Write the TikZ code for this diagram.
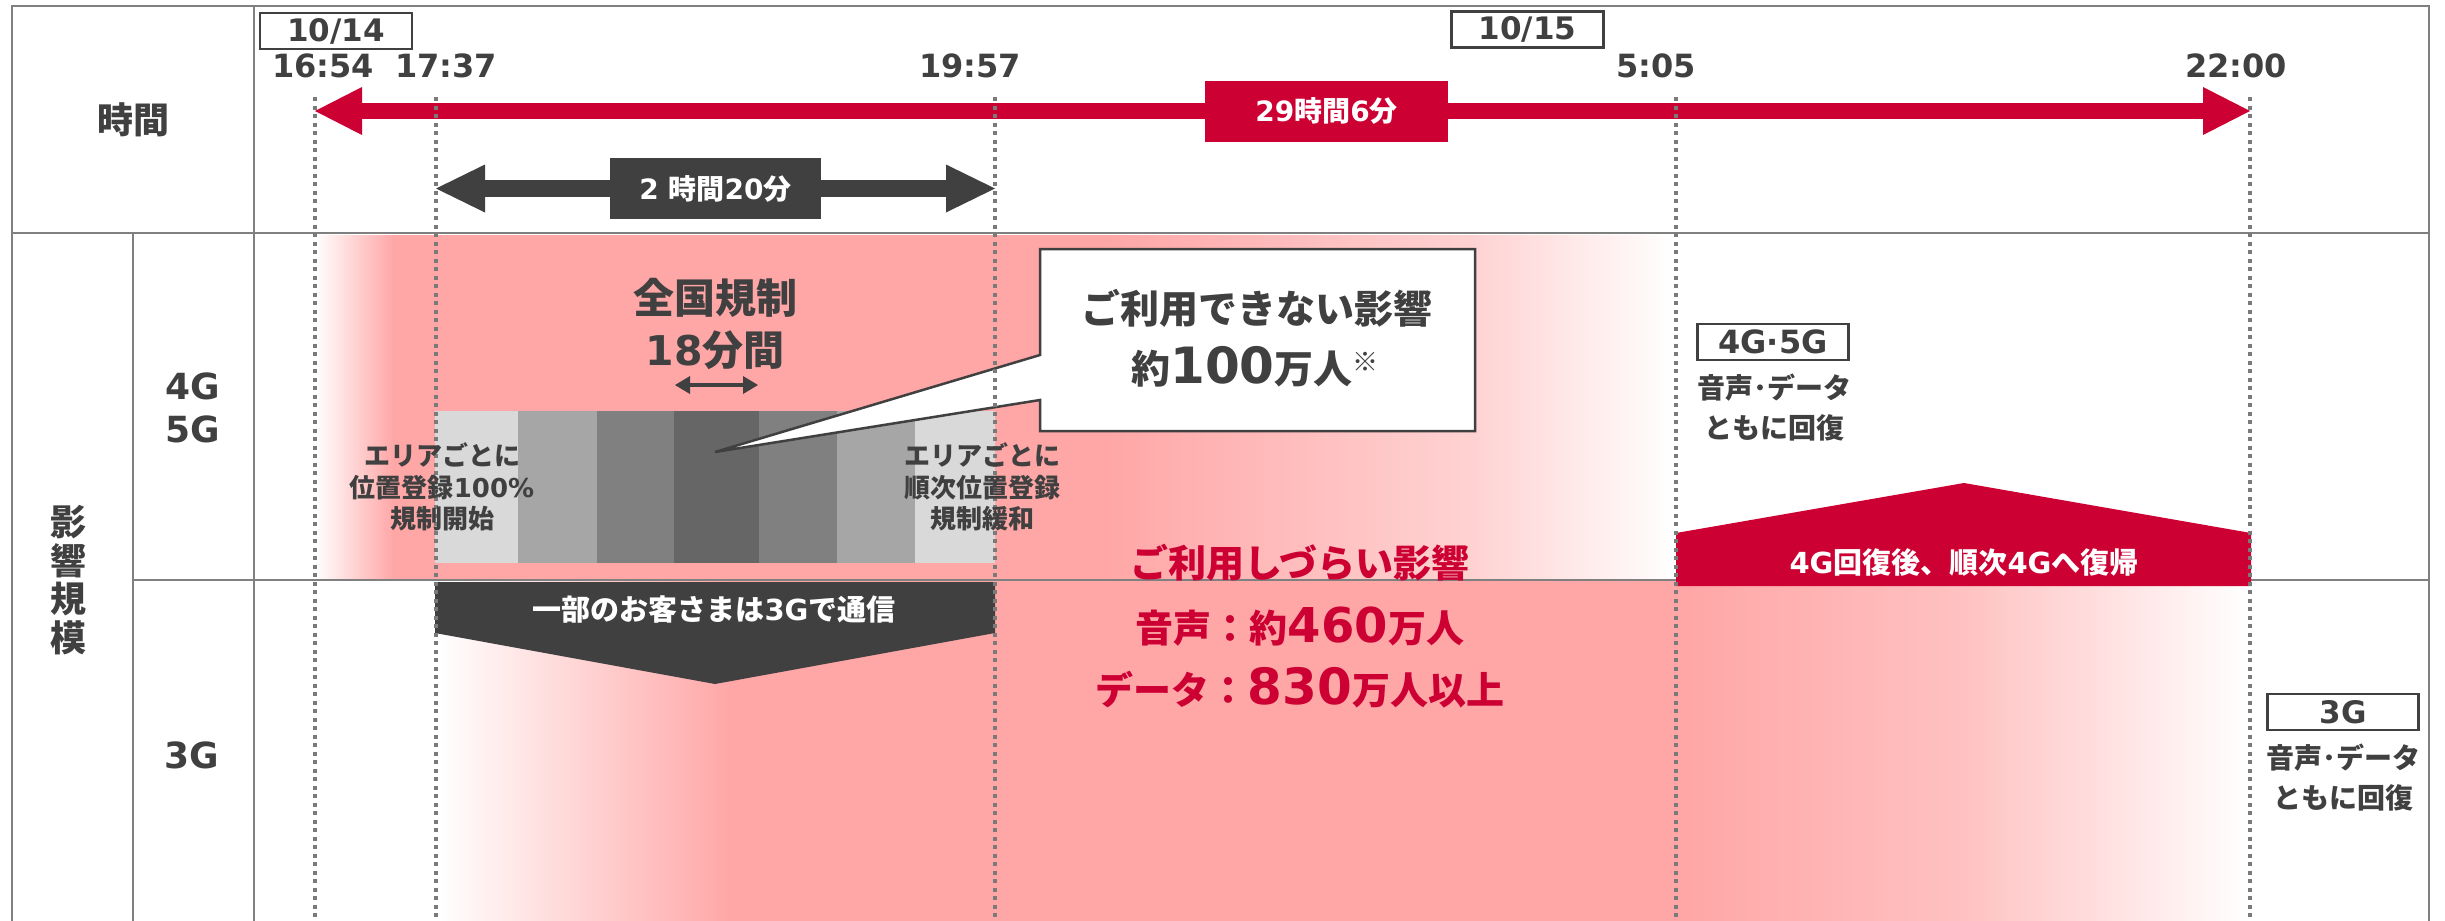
\documentclass[tikz,border=0pt]{standalone}
\usepackage{fontspec}
\setmainfont{Noto Sans CJK JP}
\newfontfamily\latinfont{DejaVu Sans}
\usetikzlibrary{arrows.meta, positioning}

\definecolor{alertred}{HTML}{CC0033}
\definecolor{inkgray}{HTML}{404040}
\definecolor{rulegray}{HTML}{808080}
\definecolor{impactpink}{HTML}{FFA6A6}

\newcommand{\fsz}[2]{\fontsize{#1}{#2}\selectfont\bfseries}
\newcommand{\dv}[1]{{\latinfont #1}}
\newcommand{\bignum}[2]{{\latinfont\fontsize{#1}{#1}\selectfont #2}}

\tikzset{
  gridline/.style = {draw=rulegray, line width=2.5pt},
  timeline/.style = {draw=rulegray!95!black, line width=3.5pt, dash pattern=on 4pt off 4.5pt},
  datebox/.style = {draw=inkgray, line width=2.5pt, fill=white, text=inkgray, inner sep=0pt,
    minimum width=152pt, minimum height=36pt, font=\fsz{31}{31}\latinfont},
  timelabel/.style = {text=inkgray, inner sep=0pt, font=\fsz{32}{32}\latinfont},
  headlabel/.style = {text=inkgray, inner sep=0pt, align=center, font=\fsz{36}{38.5}},
  spanlabel/.style = {text=white, inner sep=0pt, minimum height=61pt, font=\fsz{28}{28}},
  totalspan/.style = {draw=alertred, line width=16pt, -{Triangle[length=47pt, width=48pt, line width=0pt]}},
  splitspan/.style = {draw=inkgray, line width=17pt, -{Triangle[length=49pt, width=48pt, line width=0pt]}},
  periodmark/.style = {draw=inkgray, line width=4.5pt,
    {Triangle[length=15pt, width=18pt, line width=0pt]}-{Triangle[length=15pt, width=18pt, line width=0pt]}},
  smalllabel/.style = {text=inkgray, inner sep=0pt, align=center, font=\fsz{26}{31.5}},
  notebox/.style = {draw=inkgray, line width=2.5pt, fill=white},
  notetext/.style = {text=inkgray, inner sep=0pt, font=\fsz{39}{39}},
  hardlabel/.style = {text=alertred, inner sep=0pt, font=\fsz{38}{38}},
  recovery/.style = {text=inkgray, inner sep=0pt, align=center, font=\fsz{28}{40}},
  whitelabel/.style = {text=white, inner sep=0pt, font=\fsz{29}{29}}
}

\begin{document}
\begin{tikzpicture}[x=1pt, y=-1pt]
  \useasboundingbox (0,0) rectangle (2445,921);

  %% Impact shading

  % 4G / 5G row
  \shade[left color=white, right color=impactpink] (315,235) rectangle (394,579);
  \fill[impactpink] (393,235) rectangle (1101,579);
  \shade[left color=impactpink, right color=impactpink!50!white] (1100,235) rectangle (1476,579);
  \shade[left color=impactpink!50!white, right color=white] (1475,235) rectangle (1676,579);

  % 3G row
  \shade[left color=white, right color=impactpink] (436,581) rectangle (734,921);
  \fill[impactpink] (733,581) rectangle (1677,921);
  \shade[left color=impactpink, right color=impactpink!70!white] (1676,581) rectangle (1961,921);
  \shade[left color=impactpink!70!white, right color=white] (1960,581) rectangle (2250,921);

  % Area by area registration limit
  \foreach \xa/\xb/\lvl in {435/518/15, 518/597/35, 597/674/50, 674/759/60, 759/837/50, 837/915/35, 915/995/15}
    \fill[black!\lvl] (\xa,411) rectangle (\xb,563);

  %% Table
  \draw[gridline] (12,921) -- (12,6) -- (2429,6) -- (2429,921);
  \draw[gridline] (12,233) -- (2429,233);
  \draw[gridline] (133,580) -- (2429,580);
  \draw[gridline] (133,233) -- (133,921);
  \draw[gridline] (254,6) -- (254,921);

  %% Shapes

  % Recovery of 4G
  \fill[alertred] (1676,586) -- (1676,533) -- (1964,483) -- (2251,533) -- (2251,586) -- cycle;

  % Part of the customers on 3G
  \fill[inkgray] (435,582) -- (995,582) -- (995,633) -- (715,684) -- (435,633) -- cycle;

  % Callout
  \filldraw[notebox] (1040,249) -- (1475,249) -- (1475,431) -- (1040,431) -- (1040,400)
    -- (715,452) -- (1040,355) -- cycle;

  %% Time marks
  \coordinate (t1654) at (315,97);
  \coordinate (t1737) at (436,97);
  \coordinate (t1957) at (995,97);
  \coordinate (t0505) at (1676,97);
  \coordinate (t2200) at (2250,97);

  % Spans
  \node[spanlabel, fill=alertred, minimum width=243pt] (totallabel) at (1326.5,111) {\dv{29}時間\dv{6}分};
  \draw[totalspan] (totallabel) -- (t1654 |- totallabel);
  \draw[totalspan] (totallabel) -- (t2200 |- totallabel);

  \node[spanlabel, fill=inkgray, minimum width=211pt] (splitlabel) at (715.5,188.5) {\dv{2 }時間\dv{20}分};
  \draw[splitspan] (splitlabel) -- (t1737 |- splitlabel);
  \draw[splitspan] (splitlabel) -- (t1957 |- splitlabel);

  % Dashed marks
  \foreach \t in {t1654, t1737, t1957, t0505, t2200}
    \draw[timeline] (\t) -- (\t |- 0,921);

  %% Labels

  % Heads
  \node[headlabel] (timehead) at (133,120) {時間};
  \node[headlabel] (scalehead) at (68,580) {影\\響\\規\\模};
  \node[headlabel, font=\fsz{36}{43}\latinfont] (rowfour) at (193,408) {4G\\5G};
  \node[headlabel, font=\fsz{36}{36}\latinfont] (rowthree) at (192,755) {3G};

  % Dates and times
  \node[datebox] (day14) at (336,31) {10/14};
  \node[datebox] (day15) at (1527.5,29.5) {10/15};
  \node[timelabel] (lab1654) at (323,66) {16:54};
  \node[timelabel] (lab1737) at (446,66) {17:37};
  \node[timelabel] (lab1957) at (970,66) {19:57};
  \node[timelabel] (lab0505) at (1656,66) {5:05};
  \node[timelabel] (lab2200) at (2236,66) {22:00};

  % Nationwide limit
  \node[headlabel, font=\fsz{41}{52}] (nationwide) at (715,324) {全国規制\\\dv{18}分間};
  \coordinate (limitL) at (675,385);
  \coordinate (limitR) at (758,385);
  \draw[periodmark] (limitL) -- (limitR);
  \node[smalllabel] (areastart) at (442,487) {エリアごとに\\位置登録\dv{100\%}\\規制開始};
  \node[smalllabel] (arearelax) at (982,487) {エリアごとに\\順次位置登録\\規制緩和};

  % Impact
  \node[notetext] (outage) at (1257,308) {ご利用できない影響};
  \node[notetext] (outagecount) at (1255,367) {約\bignum{50}{100}万人{\fontsize{26}{26}\selectfont\raisebox{12pt}{※}}};
  \node[hardlabel] (hardhead) at (1300,563) {ご利用しづらい影響};
  \node[hardlabel] (hardvoice) at (1300,627) {音声：約\bignum{48}{460}万人};
  \node[hardlabel] (harddata) at (1300,688) {データ：\bignum{50}{830}万人以上};
  \node[whitelabel] (threeuse) at (714,610) {一部のお客さまは\dv{3G}で通信};

  % Recovery
  \node[datebox, minimum width=151pt, font=\fsz{32}{32}\latinfont] (netfour) at (1773,342) {4G·5G};
  \node[recovery] (fourback) at (1774,408) {音声･データ\\ともに回復};
  \node[whitelabel] (fourreturn) at (1964,562) {\dv{4G}回復後、順次\dv{4G}へ復帰};
  \node[datebox, minimum width=151pt] (netthree) at (2343,712) {3G};
  \node[recovery] (threeback) at (2343,778) {音声･データ\\ともに回復};

\end{tikzpicture}
\end{document}
